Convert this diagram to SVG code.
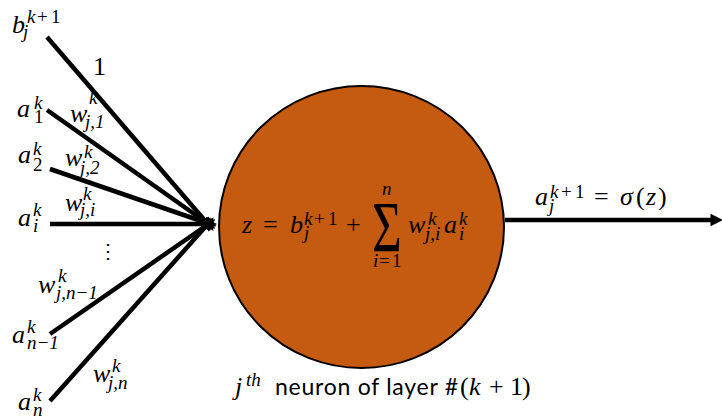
<svg xmlns="http://www.w3.org/2000/svg" width="722" height="419" viewBox="0 0 722 419">
<style>
.m{font-family:"Liberation Serif","DejaVu Serif",serif;font-style:italic;font-size:26px;fill:#000}
.s{font-size:19px}
.u{font-style:normal}
.big{font-size:71px}
.t{font-family:Lato,"Liberation Sans",sans-serif;font-size:23px;fill:#000}
.ln{stroke:#000;stroke-width:4.5;fill:none;marker-end:url(#ah)}
</style>
<defs>
<marker id="ah" viewBox="0 0 10 10" refX="2" refY="5" markerWidth="2.8" markerHeight="2.8" orient="auto" markerUnits="strokeWidth">
<path d="M0,0 L10,5 L0,10 z" fill="#000"/>
</marker>
</defs>
<g id="connectors">
<line class="ln" x1="47" y1="37" x2="207" y2="223"/>
<line class="ln" x1="47" y1="110" x2="207" y2="223"/>
<line class="ln" x1="50" y1="169" x2="207" y2="223"/>
<line class="ln" x1="50" y1="224" x2="207" y2="224"/>
<line class="ln" x1="50" y1="334" x2="207" y2="225"/>
<line class="ln" x1="50" y1="401" x2="207" y2="225"/>
<line class="ln" x1="505" y1="220" x2="713" y2="220"/>
</g>
<g id="neuron">
<ellipse cx="361.5" cy="227" rx="142.5" ry="141" fill="#C55A11" stroke="#000" stroke-width="2"/>
<text class="m"><tspan x="242" y="233">z</tspan><tspan class="u" x="263" y="233">=</tspan><tspan x="290" y="233">b</tspan><tspan class="s" x="304" y="225">k</tspan><tspan class="s u" x="314" y="225">+</tspan><tspan class="s u" x="328" y="225">1</tspan><tspan class="s" x="304" y="239">j</tspan><tspan class="u" x="346" y="233">+</tspan><tspan class="s" x="382" y="195">n</tspan><tspan class="s" x="373" y="267">i</tspan><tspan class="s u" x="379" y="267">=</tspan><tspan class="s u" x="392" y="267">1</tspan><tspan x="408" y="233">w</tspan><tspan class="s" x="428" y="225">k</tspan><tspan class="s" x="425" y="240">j,i</tspan><tspan x="444" y="233">a</tspan><tspan class="s" x="459" y="225">k</tspan><tspan class="s" x="459" y="240">i</tspan></text>
<text class="m u big" transform="translate(372,251) scale(0.72,1)">Σ</text>
</g>
<g id="label-bottom">
<text class="m"><tspan x="235" y="395">j</tspan><tspan class="s" x="246" y="386">th</tspan></text>
<text class="t" x="275" y="395" textLength="183" lengthAdjust="spacing">neuron of layer #</text>
<text class="m"><tspan class="u" x="460" y="395">(</tspan><tspan x="469" y="395">k</tspan><tspan class="u" x="489" y="395">+</tspan><tspan class="u" x="510" y="395">1</tspan><tspan class="u" x="522" y="395">)</tspan></text>
</g>
<g id="input-b">
<text class="m"><tspan x="12" y="33">b</tspan><tspan class="s" x="27" y="23">k</tspan><tspan class="s u" x="37" y="23">+</tspan><tspan class="s u" x="51" y="23">1</tspan><tspan class="s" x="23" y="38">j</tspan></text>
<text class="m u" x="93" y="75">1</text>
</g>
<g id="input-a1">
<text class="m"><tspan x="17" y="117">a</tspan><tspan class="s" x="34" y="109">k</tspan><tspan class="s u" x="34" y="123">1</tspan></text>
<text class="m"><tspan x="70" y="122">w</tspan><tspan class="s" x="89" y="104">k</tspan><tspan class="s" x="85" y="128">j,1</tspan></text>
</g>
<g id="input-a2">
<text class="m"><tspan x="18" y="163">a</tspan><tspan class="s" x="33" y="155">k</tspan><tspan class="s u" x="33" y="171">2</tspan></text>
<text class="m"><tspan x="65" y="166">w</tspan><tspan class="s" x="84" y="158">k</tspan><tspan class="s" x="80" y="174">j,2</tspan></text>
</g>
<g id="input-ai">
<text class="m"><tspan x="18" y="226">a</tspan><tspan class="s" x="33" y="216">k</tspan><tspan class="s" x="33" y="232">i</tspan></text>
<text class="m"><tspan x="65" y="211">w</tspan><tspan class="s" x="83" y="200">k</tspan><tspan class="s" x="80" y="216">j,i</tspan></text>
<text x="108" y="258" font-family="DejaVu Serif,serif" font-size="20" text-anchor="middle">⋮</text>
</g>
<g id="input-an1">
<text class="m"><tspan x="38" y="293">w</tspan><tspan class="s" x="58" y="282">k</tspan><tspan class="s" x="56" y="299">j,n−1</tspan></text>
<text class="m"><tspan x="12" y="343">a</tspan><tspan class="s" x="27" y="333">k</tspan><tspan class="s" x="27" y="349">n−1</tspan></text>
</g>
<g id="input-an">
<text class="m"><tspan x="93" y="382">w</tspan><tspan class="s" x="112" y="372">k</tspan><tspan class="s" x="108" y="389">j,n</tspan></text>
<text class="m"><tspan x="18" y="410">a</tspan><tspan class="s" x="33" y="401">k</tspan><tspan class="s" x="33" y="416">n</tspan></text>
</g>
<g id="output">
<text class="m"><tspan x="535" y="205">a</tspan><tspan class="s" x="550" y="198">k</tspan><tspan class="s u" x="561" y="198">+</tspan><tspan class="s u" x="575" y="198">1</tspan><tspan class="s" x="549" y="212">j</tspan><tspan class="u" x="594" y="205">=</tspan><tspan x="620" y="205">σ</tspan><tspan class="u" x="636" y="205">(</tspan><tspan x="646" y="205">z</tspan><tspan class="u" x="658" y="205">)</tspan></text>
</g>
</svg>
